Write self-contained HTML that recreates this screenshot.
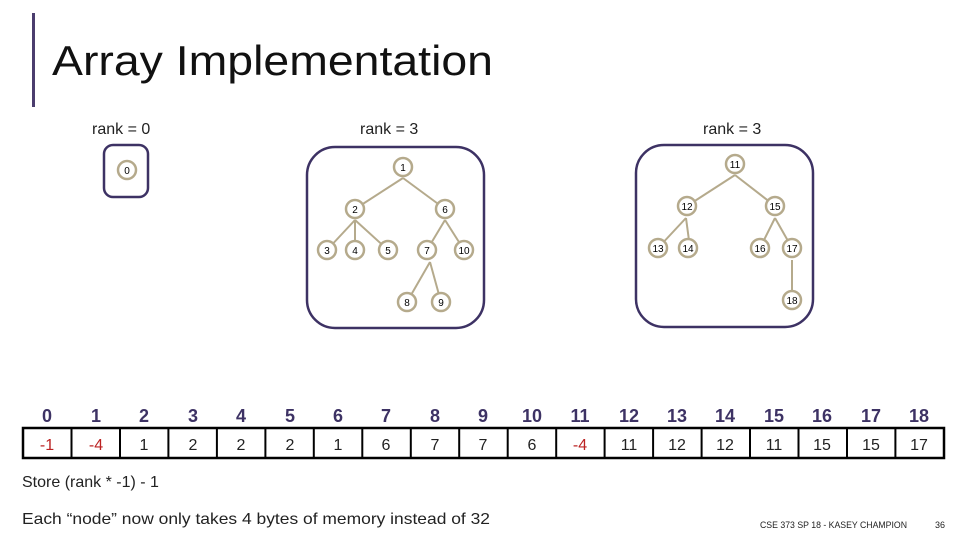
<!DOCTYPE html>
<html><head><meta charset="utf-8"><style>
html,body{margin:0;padding:0;background:#fff;}
svg{display:block;font-family:"Liberation Sans","DejaVu Sans",sans-serif;}
</style></head><body>
<svg width="960" height="540" viewBox="0 0 960 540" xmlns="http://www.w3.org/2000/svg">
<rect x="32" y="13" width="3" height="94" fill="#4b3d6e"/>
<text x="52" y="75" font-size="42" fill="#111" textLength="441" lengthAdjust="spacingAndGlyphs">Array Implementation</text>
<g font-size="16" fill="#222">
<text x="92" y="134">rank = 0</text>
<text x="360" y="134">rank = 3</text>
<text x="703" y="134">rank = 3</text>
</g>
<g fill="none" stroke="#3d3264" stroke-width="2.5">
<rect x="104" y="145" width="44" height="52" rx="9"/>
<rect x="307" y="147" width="177" height="181" rx="28"/>
<rect x="636" y="145" width="177" height="182" rx="28"/>
</g>
<g stroke="#b5aa8c" stroke-width="2">
<line x1="355" y1="209" x2="403" y2="178"/><line x1="445" y1="209" x2="403" y2="178"/>
<line x1="327" y1="250" x2="355" y2="220"/><line x1="355" y1="250" x2="355" y2="220"/><line x1="388" y1="250" x2="355" y2="220"/>
<line x1="427" y1="250" x2="445" y2="220"/><line x1="464" y1="250" x2="445" y2="220"/>
<line x1="407" y1="302" x2="430" y2="262"/><line x1="441" y1="302" x2="430" y2="262"/>
<line x1="687" y1="206" x2="735" y2="175"/><line x1="775" y1="206" x2="735" y2="175"/>
<line x1="658" y1="248" x2="686" y2="218"/><line x1="690" y1="248" x2="686" y2="218"/>
<line x1="760" y1="248" x2="775" y2="218"/><line x1="792" y1="248" x2="775" y2="218"/>
<line x1="792" y1="300" x2="792" y2="260"/>
</g>
<g fill="#fff" stroke="#b5aa8c" stroke-width="2.5">
<circle cx="127" cy="170" r="9"/>
<circle cx="403" cy="167" r="9"/><circle cx="355" cy="209" r="9"/><circle cx="445" cy="209" r="9"/>
<circle cx="327" cy="250" r="9"/><circle cx="355" cy="250" r="9"/><circle cx="388" cy="250" r="9"/>
<circle cx="427" cy="250" r="9"/><circle cx="464" cy="250" r="9"/><circle cx="407" cy="302" r="9"/><circle cx="441" cy="302" r="9"/>
<circle cx="735" cy="164" r="9"/><circle cx="687" cy="206" r="9"/><circle cx="775" cy="206" r="9"/>
<circle cx="658" cy="248" r="9"/><circle cx="688" cy="248" r="9"/><circle cx="760" cy="248" r="9"/><circle cx="792" cy="248" r="9"/><circle cx="792" cy="300" r="9"/>
</g>
<g font-size="10" fill="#000" text-anchor="middle">
<text x="127" y="174">0</text>
<text x="403" y="171">1</text><text x="355" y="213">2</text><text x="445" y="213">6</text>
<text x="327" y="254">3</text><text x="355" y="254">4</text><text x="388" y="254">5</text>
<text x="427" y="254">7</text><text x="464" y="254">10</text><text x="407" y="306">8</text><text x="441" y="306">9</text>
<text x="735" y="168">11</text><text x="687" y="210">12</text><text x="775" y="210">15</text>
<text x="658" y="252">13</text><text x="688" y="252">14</text><text x="760" y="252">16</text><text x="792" y="252">17</text><text x="792" y="304">18</text>
</g>
<g font-size="18" font-weight="bold" fill="#3d3264" text-anchor="middle">
<text x="47" y="422">0</text><text x="96" y="422">1</text><text x="144" y="422">2</text><text x="193" y="422">3</text><text x="241" y="422">4</text><text x="290" y="422">5</text><text x="338" y="422">6</text><text x="386" y="422">7</text><text x="435" y="422">8</text><text x="483" y="422">9</text><text x="532" y="422">10</text><text x="580" y="422">11</text><text x="629" y="422">12</text><text x="677" y="422">13</text><text x="725" y="422">14</text><text x="774" y="422">15</text><text x="822" y="422">16</text><text x="871" y="422">17</text><text x="919" y="422">18</text>
</g>
<rect x="23" y="428" width="921" height="30" fill="none" stroke="#000" stroke-width="2.5"/>
<g stroke="#000" stroke-width="2">
<line x1="71.5" y1="428" x2="71.5" y2="458"/><line x1="120" y1="428" x2="120" y2="458"/><line x1="168.4" y1="428" x2="168.4" y2="458"/><line x1="216.9" y1="428" x2="216.9" y2="458"/><line x1="265.4" y1="428" x2="265.4" y2="458"/><line x1="313.8" y1="428" x2="313.8" y2="458"/><line x1="362.3" y1="428" x2="362.3" y2="458"/><line x1="410.8" y1="428" x2="410.8" y2="458"/><line x1="459.2" y1="428" x2="459.2" y2="458"/><line x1="507.7" y1="428" x2="507.7" y2="458"/><line x1="556.2" y1="428" x2="556.2" y2="458"/><line x1="604.6" y1="428" x2="604.6" y2="458"/><line x1="653.1" y1="428" x2="653.1" y2="458"/><line x1="701.6" y1="428" x2="701.6" y2="458"/><line x1="750" y1="428" x2="750" y2="458"/><line x1="798.5" y1="428" x2="798.5" y2="458"/><line x1="847" y1="428" x2="847" y2="458"/><line x1="895.4" y1="428" x2="895.4" y2="458"/>
</g>
<g font-size="16" fill="#222" text-anchor="middle">
<text x="47" y="450" fill="#b22">-1</text><text x="96" y="450" fill="#b22">-4</text><text x="144" y="450">1</text><text x="193" y="450">2</text><text x="241" y="450">2</text><text x="290" y="450">2</text><text x="338" y="450">1</text><text x="386" y="450">6</text><text x="435" y="450">7</text><text x="483" y="450">7</text><text x="532" y="450">6</text><text x="580" y="450" fill="#b22">-4</text><text x="629" y="450">11</text><text x="677" y="450">12</text><text x="725" y="450">12</text><text x="774" y="450">11</text><text x="822" y="450">15</text><text x="871" y="450">15</text><text x="919" y="450">17</text>
</g>
<text x="22" y="487" font-size="16" fill="#222">Store (rank * -1) - 1</text>
<text x="22" y="524" font-size="16" fill="#222" textLength="468" lengthAdjust="spacingAndGlyphs">Each “node” now only takes 4 bytes of memory instead of 32</text>
<text x="760" y="528" font-size="9" fill="#222" textLength="147" lengthAdjust="spacingAndGlyphs">CSE 373 SP 18 - KASEY CHAMPION</text>
<text x="935" y="528" font-size="9" fill="#222">36</text>
</svg>
</body></html>
